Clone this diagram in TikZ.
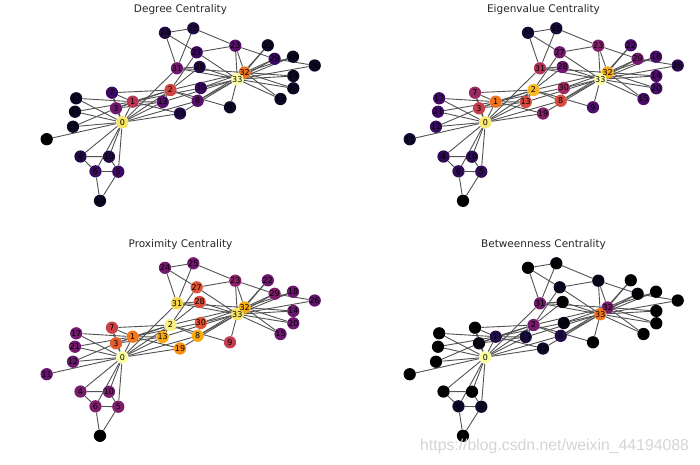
\documentclass[tikz,border=0pt]{standalone}
\usepackage{fontspec}
\setmainfont{DejaVu Sans}
\newfontfamily\wmfont{Liberation Sans}
\usetikzlibrary{backgrounds}
\definecolor{inf0}{HTML}{000003}
\definecolor{inf1}{HTML}{160B39}
\definecolor{inf2}{HTML}{410967}
\definecolor{inf3}{HTML}{6A176E}
\definecolor{inf4}{HTML}{932567}
\definecolor{inf5}{HTML}{BA3655}
\definecolor{inf6}{HTML}{DC5039}
\definecolor{inf7}{HTML}{F2751A}
\definecolor{inf8}{HTML}{FBA40A}
\definecolor{inf9}{HTML}{F6D542}
\definecolor{inf10}{HTML}{FCFEA4}
\newcommand\infset[2]{%
  \pgfmathsetmacro\infx{min(max(#2,0),1)*10}%
  \pgfmathtruncatemacro\infi{min(floor(\infx),9)}%
  \pgfmathtruncatemacro\infj{\infi+1}%
  \pgfmathtruncatemacro\infp{round((\infx-\infi)*100)}%
  \colorlet{#1}{inf\infj!\infp!inf\infi}%
}
\tikzset{
  vtx/.style={circle, minimum size=12.3pt, inner sep=0pt, draw=none},
  edg/.style={draw=black!68, line width=0.9pt},
  lbl/.style={font=\fontsize{8}{8}\selectfont, text=black, inner sep=0pt},
  ttl/.style={font=\fontsize{10.5}{10.5}\selectfont, text=black!85, inner sep=0pt},
  wm/.style={font=\wmfont\fontsize{15.8}{15.8}\selectfont, text=black!17, inner sep=0pt, anchor=base west},
}
\def\posx{{122.3,132.7,170.5,116,80.5,118.3,95.5,112,197.7,230,109,46.7,73,162.7,293.3,280.5,100,76.2,293,180,293.3,75,267.8,235.3,165,193.3,314.7,196.7,199.6,274.6,200.8,177,244.6,237.3}}
\def\posy{{357.3,336.7,325,343.3,391.5,406.7,406.3,327.7,335.8,342.3,391.7,374.2,361.7,337,311,334,435.8,333.3,291.7,348.5,323.3,346.7,280.3,280.7,267.8,263.3,300.5,287.3,302,293.8,323,303.3,307.5,314.2}}
\def\edgelist{0/1,0/2,0/3,0/4,0/5,0/6,0/7,0/8,0/10,0/11,0/12,0/13,0/17,0/19,0/21,0/31,1/2,1/3,1/7,1/13,1/17,1/19,1/21,1/30,2/3,2/7,2/8,2/9,2/13,2/27,2/28,2/32,3/7,3/12,3/13,4/6,4/10,5/6,5/10,5/16,6/16,8/30,8/32,8/33,9/33,13/33,14/32,14/33,15/32,15/33,18/32,18/33,19/33,20/32,20/33,22/32,22/33,23/25,23/27,23/29,23/32,23/33,24/25,24/27,24/31,25/31,26/29,26/33,27/33,28/31,28/33,29/32,29/33,30/32,30/33,31/32,31/33,32/33}
\def\degv{{0.9375,0.5,0.5625,0.3125,0.125,0.1875,0.1875,0.1875,0.25,0.0625,0.125,0,0.0625,0.25,0.0625,0.0625,0.0625,0.0625,0.0625,0.125,0.0625,0.0625,0.0625,0.25,0.125,0.125,0.0625,0.1875,0.125,0.1875,0.1875,0.3125,0.6875,1}}
\def\eigv{{0.949,0.693,0.839,0.536,0.150,0.160,0.160,0.421,0.583,0.226,0.150,0.0835,0.173,0.580,0.222,0.222,0,0.197,0.222,0.355,0.222,0.197,0.222,0.362,0.0956,0.102,0.1485,0.314,0.307,0.318,0.432,0.479,0.815,1}}
\def\proxv{{1,0.706,0.966,0.634,0.333,0.349,0.349,0.547,0.812,0.526,0.333,0.289,0.303,0.812,0.303,0.303,0,0.318,0.303,0.757,0.303,0.318,0.303,0.381,0.318,0.318,0.275,0.611,0.589,0.349,0.611,0.902,0.812,0.933}}
\def\betv{{1,0.1232,0.3282,0.0272,0.0014,0.0685,0.0685,0,0.1278,0.0019,0.0014,0,0,0.1048,0,0,0,0,0,0.0742,0,0,0,0.0402,0.0050,0.0088,0,0.0511,0.0041,0.0067,0.0330,0.3158,0.3318,0.6946}}
\newcommand\drawpanel[5]{%
  \foreach \i in {0,...,33}{%
    \pgfmathsetmacro\px{\posx[\i]+#2}%
    \pgfmathsetmacro\py{\posy[\i]+#3}%
    \pgfmathsetmacro\vv{#4[\i]}%
    \infset{tmpc}{\vv}%
    \node[vtx, fill=tmpc] (#1\i) at (\px,\py) {};
  }
  \foreach \i in {0,...,33}{\node[lbl] (#1l\i) at (#1\i) {\i};}
  \begin{scope}[on background layer]
    \foreach \a/\b in \edgelist {\draw[edg] (#1\a) -- (#1\b);}
  \end{scope}
  \node[ttl] (#1title) at (180.5+#2,245+#3) {#5};
}
\begin{document}
\begin{tikzpicture}[x=1pt,y=-1pt]
\useasboundingbox (0,0) rectangle (700,464);
\drawpanel{d}{0}{-235}{\degv}{Degree Centrality}
\drawpanel{e}{363}{-235}{\eigv}{Eigenvalue Centrality}
\drawpanel{p}{0}{0}{\proxv}{Proximity Centrality}
\drawpanel{b}{363}{0}{\betv}{Betweenness Centrality}
\node[wm] (wmark) at (420,450.7) {https://blog.csdn.net/weixin\_44194088};
\end{tikzpicture}
\end{document}
